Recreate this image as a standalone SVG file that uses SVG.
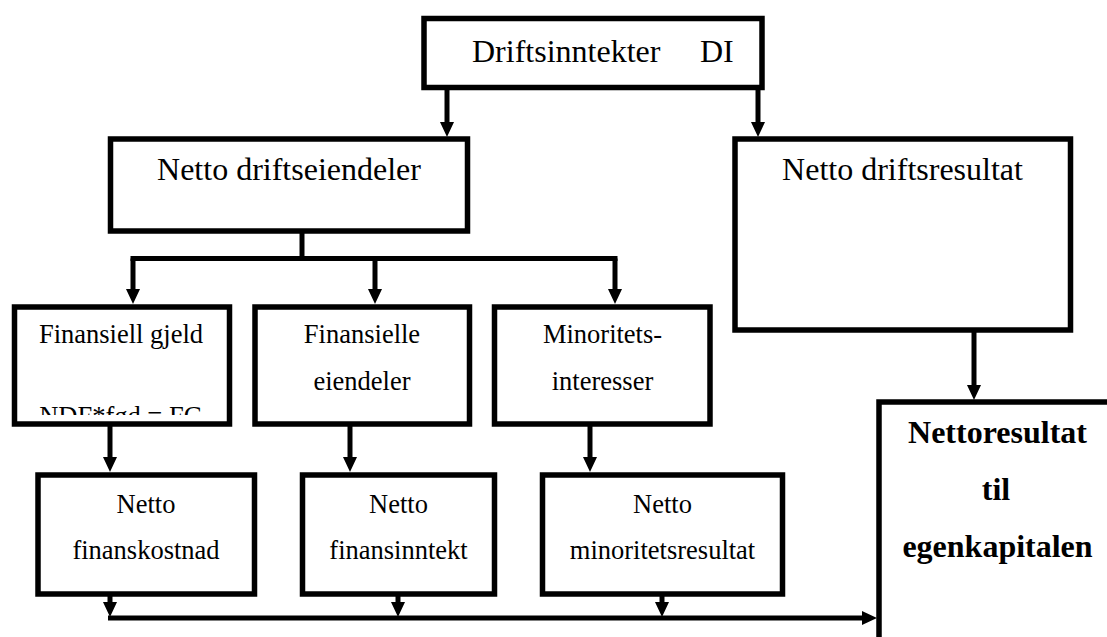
<svg xmlns="http://www.w3.org/2000/svg" width="1107" height="637" viewBox="0 0 1107 637">
  <style>
    .box { fill: #ffffff; stroke: #000000; stroke-width: 5.5; }
    .conn { fill: none; stroke: #000000; stroke-width: 5; }
    .big { font-family: "Liberation Serif", "Times New Roman", serif; font-size: 32px; fill: #000000; }
    .med { font-family: "Liberation Serif", "Times New Roman", serif; font-size: 26.5px; fill: #000000; text-anchor: middle; }
    .bold { font-family: "Liberation Serif", "Times New Roman", serif; font-size: 32px; font-weight: bold; fill: #000000; text-anchor: middle; }
  </style>
  <defs>
    <marker id="arrow" viewBox="0 0 15 14" refX="0" refY="7" markerWidth="15" markerHeight="14" markerUnits="userSpaceOnUse" orient="auto">
      <path d="M0,0 L15,7 L0,14 z" fill="#000000"/>
    </marker>
    <clipPath id="clipFG">
      <rect x="18" y="310" width="208" height="105"/>
    </clipPath>
  </defs>
  <rect x="0" y="0" width="1107" height="637" fill="#ffffff"/>

  <g id="connectors">
    <!-- from Driftsinntekter -->
    <line class="conn" x1="447" y1="90" x2="447" y2="122" marker-end="url(#arrow)"/>
    <line class="conn" x1="758" y1="90" x2="758" y2="122" marker-end="url(#arrow)"/>
    <!-- from Netto driftseiendeler -->
    <polyline class="conn" points="302,233 302,258.5"/>
    <line class="conn" x1="130.5" y1="258.5" x2="617.5" y2="258.5"/>
    <line class="conn" x1="133" y1="258.5" x2="133" y2="289" marker-end="url(#arrow)"/>
    <line class="conn" x1="375" y1="258.5" x2="375" y2="289" marker-end="url(#arrow)"/>
    <line class="conn" x1="615" y1="258.5" x2="615" y2="289" marker-end="url(#arrow)"/>
    <!-- row 2 to row 3 -->
    <line class="conn" x1="110" y1="426" x2="110" y2="457" marker-end="url(#arrow)"/>
    <line class="conn" x1="350" y1="426" x2="350" y2="457" marker-end="url(#arrow)"/>
    <line class="conn" x1="590" y1="426" x2="590" y2="457" marker-end="url(#arrow)"/>
    <!-- row 3 to bottom line -->
    <line class="conn" x1="110" y1="596" x2="110" y2="602" marker-end="url(#arrow)"/>
    <line class="conn" x1="398" y1="596" x2="398" y2="602" marker-end="url(#arrow)"/>
    <line class="conn" x1="662" y1="596" x2="662" y2="602" marker-end="url(#arrow)"/>
    <line class="conn" x1="108" y1="618" x2="862" y2="618" marker-end="url(#arrow)"/>
    <!-- Netto driftsresultat to Nettoresultat -->
    <line class="conn" x1="974" y1="332" x2="974" y2="385" marker-end="url(#arrow)"/>
  </g>

  <g id="node-driftsinntekter">
    <rect class="box" x="424" y="18.5" width="338" height="69"/>
    <text class="big" y="62"><tspan x="472">Driftsinntekter</tspan><tspan x="700">DI</tspan></text>
  </g>

  <g id="node-netto-driftseiendeler">
    <rect class="box" x="110.5" y="139" width="357" height="92"/>
    <text class="big" x="289" y="180" text-anchor="middle">Netto driftseiendeler</text>
  </g>

  <g id="node-netto-driftsresultat">
    <rect class="box" x="735" y="139" width="335.5" height="191"/>
    <text class="big" x="902.5" y="180" text-anchor="middle">Netto driftsresultat</text>
  </g>

  <g id="node-finansiell-gjeld">
    <rect class="box" x="14.5" y="307" width="215" height="117"/>
    <text class="med" x="121" y="343">Finansiell gjeld</text>
    <text class="med" x="121" y="425" clip-path="url(#clipFG)">NDF*fgd = FG</text>
  </g>

  <g id="node-finansielle-eiendeler">
    <rect class="box" x="255" y="307" width="214.5" height="117"/>
    <text class="med" x="362" y="343">Finansielle</text>
    <text class="med" x="362" y="390">eiendeler</text>
  </g>

  <g id="node-minoritetsinteresser">
    <rect class="box" x="494.5" y="307" width="215.5" height="117"/>
    <text class="med" x="602.5" y="343">Minoritets-</text>
    <text class="med" x="602.5" y="390">interesser</text>
  </g>

  <g id="node-netto-finanskostnad">
    <rect class="box" x="38" y="475" width="216.5" height="119"/>
    <text class="med" x="146" y="513">Netto</text>
    <text class="med" x="146" y="559">finanskostnad</text>
  </g>

  <g id="node-netto-finansinntekt">
    <rect class="box" x="302.5" y="475" width="192" height="119"/>
    <text class="med" x="398.5" y="513">Netto</text>
    <text class="med" x="398.5" y="559">finansinntekt</text>
  </g>

  <g id="node-netto-minoritetsresultat">
    <rect class="box" x="542.5" y="475" width="240" height="119"/>
    <text class="med" x="662.5" y="513">Netto</text>
    <text class="med" x="662.5" y="559">minoritetsresultat</text>
  </g>

  <g id="node-nettoresultat">
    <rect class="box" x="879" y="402" width="240" height="260"/>
    <text class="bold" x="997.5" y="443">Nettoresultat</text>
    <text class="bold" x="996" y="500">til</text>
    <text class="bold" x="997.5" y="557">egenkapitalen</text>
  </g>
</svg>
